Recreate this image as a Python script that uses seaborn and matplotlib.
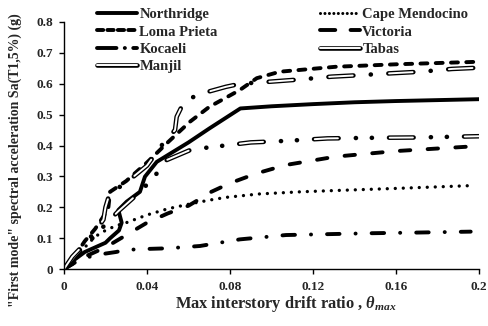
import numpy as np
import pandas as pd
import matplotlib
matplotlib.use("Agg")
import matplotlib.pyplot as plt
from matplotlib.lines import Line2D
import matplotlib.patheffects as pe
from matplotlib.ticker import FuncFormatter
import seaborn as sns

# ---------------- data ----------------
northridge_x = [0, 0.005, 0.010, 0.015, 0.020, 0.0222, 0.0265, 0.0278, 0.0262, 0.0302, 0.0366, 0.039, 0.0447, 0.060, 0.070, 0.085, 0.100, 0.120, 0.140, 0.160, 0.180, 0.200]
northridge_y = [0, 0.030, 0.055, 0.070, 0.085, 0.0995, 0.125, 0.150, 0.191, 0.218, 0.250, 0.299, 0.347, 0.410, 0.455, 0.520, 0.527, 0.534, 0.540, 0.544, 0.547, 0.550]

loma_x = [0, 0.005, 0.010, 0.015, 0.019, 0.0214, 0.0222, 0.026, 0.030, 0.040, 0.050, 0.0607, 0.070, 0.0848, 0.0929, 0.104, 0.131, 0.160, 0.199]
loma_y = [0, 0.040, 0.090, 0.130, 0.170, 0.200, 0.250, 0.267, 0.285, 0.345, 0.410, 0.477, 0.525, 0.580, 0.618, 0.639, 0.655, 0.663, 0.671]

kocaeli_x = [0, 0.005, 0.010, 0.015, 0.020, 0.025, 0.030, 0.040, 0.050, 0.0655, 0.0848, 0.107, 0.128, 0.149, 0.170, 0.196]
kocaeli_y = [0, 0.020, 0.035, 0.045, 0.050, 0.055, 0.062, 0.065, 0.067, 0.0745, 0.096, 0.110, 0.113, 0.116, 0.118, 0.121]

manjil_x = [0, 0.005, 0.0093, 0.013, 0.0198, 0.026, 0.030, 0.035, 0.0414, 0.046, 0.0495, 0.0607, 0.065, 0.090, 0.107, 0.127, 0.150, 0.170, 0.200]
manjil_y = [0, 0.040, 0.072, 0.095, 0.143, 0.186, 0.210, 0.240, 0.283, 0.320, 0.353, 0.385, 0.390, 0.410, 0.415, 0.423, 0.425, 0.426, 0.430]

cape_x = [0, 0.005, 0.010, 0.015, 0.020, 0.025, 0.030, 0.040, 0.050, 0.063, 0.070, 0.078, 0.094, 0.114, 0.130, 0.160, 0.196]
cape_y = [0, 0.030, 0.070, 0.105, 0.125, 0.140, 0.150, 0.175, 0.195, 0.214, 0.223, 0.232, 0.243, 0.250, 0.254, 0.261, 0.270]

victoria_x = [0, 0.010, 0.020, 0.030, 0.040, 0.050, 0.060, 0.066, 0.071, 0.080, 0.093, 0.107, 0.131, 0.160, 0.199]
victoria_y = [0, 0.040, 0.070, 0.110, 0.150, 0.180, 0.205, 0.229, 0.250, 0.278, 0.310, 0.337, 0.364, 0.382, 0.398]

tabas_x = [0, 0.004, 0.009, 0.015, 0.019, 0.020, 0.022, 0.026, 0.030, 0.040, 0.047, 0.0535, 0.0543, 0.0575, 0.064, 0.078, 0.085, 0.100, 0.114, 0.129, 0.143, 0.158, 0.172, 0.187, 0.200]
tabas_y = [0, 0.040, 0.075, 0.120, 0.160, 0.200, 0.245, 0.262, 0.280, 0.335, 0.400, 0.450, 0.493, 0.537, 0.564, 0.590, 0.600, 0.607, 0.614, 0.623, 0.628, 0.634, 0.639, 0.648, 0.652]

x_ticks = [0, 0.04, 0.08, 0.12, 0.16, 0.2]
y_ticks = [0, 0.1, 0.2, 0.3, 0.4, 0.5, 0.6, 0.7, 0.8]

# ---------------- style ----------------
sns.set_style("white")
plt.rcParams["font.family"] = ["Liberation Serif", "DejaVu Serif"]
plt.rcParams["font.weight"] = "bold"
plt.rcParams["axes.labelweight"] = "bold"
plt.rcParams["mathtext.fontset"] = "custom"
plt.rcParams["mathtext.it"] = "Liberation Serif:italic:bold"
plt.rcParams["mathtext.rm"] = "Liberation Serif:bold"
plt.rcParams["lines.scale_dashes"] = False

fig = plt.figure(figsize=(4.89, 3.26), dpi=100)
ax = fig.add_axes([64 / 489, 1 - 269 / 326, 415 / 489, 247 / 326])

def draw(x, y, **kw):
    df = pd.DataFrame({"x": x, "y": y})
    sns.lineplot(data=df, x="x", y="y", sort=False, estimator=None, ax=ax, **kw)
    return ax.lines[-1]

BLK = "black"
# Northridge
draw(northridge_x, northridge_y, color=BLK, lw=2.8, solid_capstyle="round", solid_joinstyle="round")
# Loma Prieta
draw(loma_x, loma_y, color=BLK, lw=2.8, linestyle=(0, (5.0, 6.0)), dash_capstyle="round")
# Kocaeli
draw(kocaeli_x, kocaeli_y, color=BLK, lw=2.8, linestyle=(0, (9.0, 11.5, 0.1, 11.5)), dash_capstyle="round")
# Cape Mendocino
draw(cape_x, cape_y, color=BLK, lw=2.4, linestyle=(0, (0.01, 5.75)), dash_capstyle="round")
# Victoria
draw(victoria_x, victoria_y, color=BLK, lw=2.8, linestyle=(0, (7.5, 12.5)), dash_capstyle="round")
# Manjil (hollow, dash-dot-dot)
draw(manjil_x, manjil_y, color=BLK, lw=3.3, linestyle=(0, (17.7, 12.4, 0.1, 11.4, 0.1, 12.3)), dash_capstyle="round")
draw(manjil_x, manjil_y, color="white", lw=1.4, linestyle=(53.5, (16.7, 37.3)), dash_capstyle="round")
# Tabas (hollow, dash-dot)
draw(tabas_x, tabas_y, color=BLK, lw=3.3, linestyle=(0, (18.0, 12.5, 0.1, 12.6)), dash_capstyle="round")
draw(tabas_x, tabas_y, color="white", lw=1.4, linestyle=(42.7, (17.0, 26.2)), dash_capstyle="round")

# ---------------- axes ----------------
ax.set_xlim(0, 0.2)
ax.set_ylim(0, 0.8)
ax.set_xticks(x_ticks)
ax.set_yticks(y_ticks)
fmt = FuncFormatter(lambda v, p: "%g" % round(v, 4))
ax.xaxis.set_major_formatter(fmt)
ax.yaxis.set_major_formatter(fmt)
for s in ["top", "right"]:
    ax.spines[s].set_visible(False)
for s in ["left", "bottom"]:
    ax.spines[s].set_color("black")
    ax.spines[s].set_linewidth(1.0)
ax.tick_params(axis="both", direction="out", length=3.5, width=1.0, color="black",
               labelsize=9.5, left=True, bottom=True)
ax.tick_params(axis="x", pad=5)
ax.tick_params(axis="y", pad=4)
for lab in ax.get_xticklabels() + ax.get_yticklabels():
    lab.set_fontweight("bold")

ax.set_xlabel(r"Max interstory drift ratio , $\theta_{max}$", fontsize=11.8, fontweight="bold")
ax.set_ylabel('"First mode" spectral acceleration Sa(T1,5%) (g)', fontsize=10, fontweight="bold")
ax.xaxis.set_label_coords(0.535, -0.1)
ax.yaxis.set_label_coords(-0.1, 0.44)

# ---------------- legend ----------------
def solid(ls, lw=2.8):
    return Line2D([], [], color=BLK, lw=lw, linestyle=ls, dash_capstyle="round", solid_capstyle="round")

def hollow():
    return Line2D([], [], color="white", lw=1.4, solid_capstyle="round",
                  path_effects=[pe.Stroke(linewidth=3.3, foreground=BLK, capstyle="round"), pe.Normal()])

h1 = [solid("-"), solid((0, (4.5, 3.0))), solid((0, (14.0, 6.0, 0.1, 6.0))), hollow()]
l1 = ["Northridge", "Loma Prieta", "Kocaeli", "Manjil"]
h2 = [solid((0, (0.01, 3.2)), 2.2), solid((0, (11.0, 11.0))), hollow()]
l2 = ["Cape Mendocino", "Victoria", "Tabas"]

common = dict(frameon=False, handlelength=2.75, handletextpad=0.15,
              labelspacing=0.28, borderpad=0, borderaxespad=0,
              prop={"weight": "bold", "size": 10.5})
fig.legend(h1, l1, loc="upper left", bbox_to_anchor=(97 / 489, 1 - 8 / 326), **common)
fig.legend(h2, l2, loc="upper left", bbox_to_anchor=(320 / 489, 1 - 8 / 326), **common)

fig.savefig("out.png", dpi=100)
